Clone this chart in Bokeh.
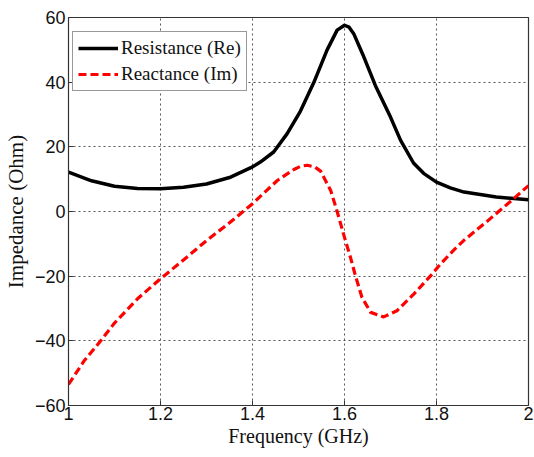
from bokeh.plotting import figure
from bokeh.models import Range1d, FixedTicker, Legend, LegendItem
from bokeh.embed import file_html
from bokeh.resources import INLINE

freq_re = [1.0, 1.05, 1.1, 1.15, 1.2, 1.25, 1.3, 1.35, 1.4, 1.417, 1.446, 1.475, 1.504, 1.533, 1.562, 1.584, 1.6, 1.61, 1.62, 1.64, 1.667, 1.7, 1.722, 1.75, 1.772, 1.8, 1.83, 1.86, 1.93, 2.0]
resistance = [12.2, 9.5, 7.8, 7.1, 7.0, 7.5, 8.5, 10.5, 13.8, 15.3, 18.4, 24.0, 31.0, 39.8, 49.9, 56.1, 57.6, 57.0, 55.0, 48.5, 39.0, 29.2, 22.0, 15.0, 11.8, 9.1, 7.3, 6.0, 4.5, 3.6]

freq_im = [1.0, 1.035, 1.07, 1.1, 1.15, 1.2, 1.25, 1.3, 1.35, 1.4, 1.454, 1.49, 1.505, 1.519, 1.535, 1.548, 1.57, 1.584, 1.6, 1.613, 1.624, 1.638, 1.657, 1.685, 1.714, 1.751, 1.787, 1.809, 1.837, 1.859, 1.917, 1.968, 2.0]
reactance = [-53.5, -46.0, -40.0, -34.5, -27.0, -20.8, -15.0, -9.0, -3.5, 2.4, 9.6, 13.0, 14.0, 14.3, 13.8, 12.5, 6.5, 0.0, -8.0, -14.2, -20.0, -26.6, -31.2, -32.6, -30.7, -25.5, -19.9, -16.2, -12.0, -9.0, -2.2, 4.0, 8.0]

x_ticks = [1.0, 1.2, 1.4, 1.6, 1.8, 2.0]
y_ticks = [-60, -40, -20, 0, 20, 40, 60]

p = figure(width=534, height=457, output_backend="svg", toolbar_location=None,
           x_range=Range1d(1, 2), y_range=Range1d(-60, 60),
           min_border_left=68, min_border_right=6, min_border_top=17, min_border_bottom=52)

p.outline_line_color = "#333333"
p.outline_line_width = 1.2
p.background_fill_color = "white"
p.border_fill_color = "white"

for ax in (p.xaxis[0], p.yaxis[0]):
    ax.major_tick_in = 5
    ax.major_tick_out = 0
    ax.minor_tick_line_color = None
    ax.axis_line_color = "#333333"
    ax.major_tick_line_color = "#333333"
    ax.major_label_text_font = "Liberation Sans"
    ax.major_label_text_font_size = "18px"
    ax.major_label_text_color = "#111111"
    ax.axis_label_text_font = "Liberation Serif"
    ax.axis_label_text_font_style = "normal"
    ax.axis_label_text_color = "#111111"

p.xaxis.axis_label_text_font_size = "20px"
p.yaxis.axis_label_text_font_size = "21px"
p.xaxis.ticker = FixedTicker(ticks=x_ticks)
p.yaxis.ticker = FixedTicker(ticks=y_ticks)
p.xaxis.major_label_overrides = {1.0: "1", 1.2: "1.2", 1.4: "1.4", 1.6: "1.6", 1.8: "1.8", 2.0: "2"}
p.xaxis.axis_label = "Frequency (GHz)"
p.yaxis.axis_label = "Impedance (Ohm)"
p.xaxis.axis_label_standoff = 2
p.yaxis.axis_label_standoff = 4
p.xaxis.major_label_standoff = 1
p.yaxis.major_label_standoff = 3

p.xgrid.grid_line_color = "#555555"
p.ygrid.grid_line_color = "#555555"
p.xgrid.grid_line_dash = "2 3"
p.ygrid.grid_line_dash = "2 3"
p.xgrid.grid_line_width = 1
p.ygrid.grid_line_width = 1

r1 = p.line(freq_re, resistance, line_color="black", line_width=3.5, line_join="round")
r2 = p.line(freq_im, reactance, line_color="#ff0000", line_width=3.2, line_dash="8 4", line_join="round")

legend = Legend(items=[LegendItem(label="Resistance (Re)", renderers=[r1]),
                       LegendItem(label="Reactance (Im)", renderers=[r2])],
                location=(4, 314))
legend.label_text_font = "Liberation Serif"
legend.label_text_font_size = "19px"
legend.label_text_color = "#111111"
legend.border_line_color = "#333333"
legend.border_line_width = 1
legend.glyph_width = 40
legend.glyph_height = 22
legend.label_height = 22
legend.spacing = 4
legend.padding = 5
legend.margin = 0
legend.label_standoff = 3
legend.background_fill_alpha = 1
p.add_layout(legend)

open("out.html", "w").write(file_html(p, INLINE))
